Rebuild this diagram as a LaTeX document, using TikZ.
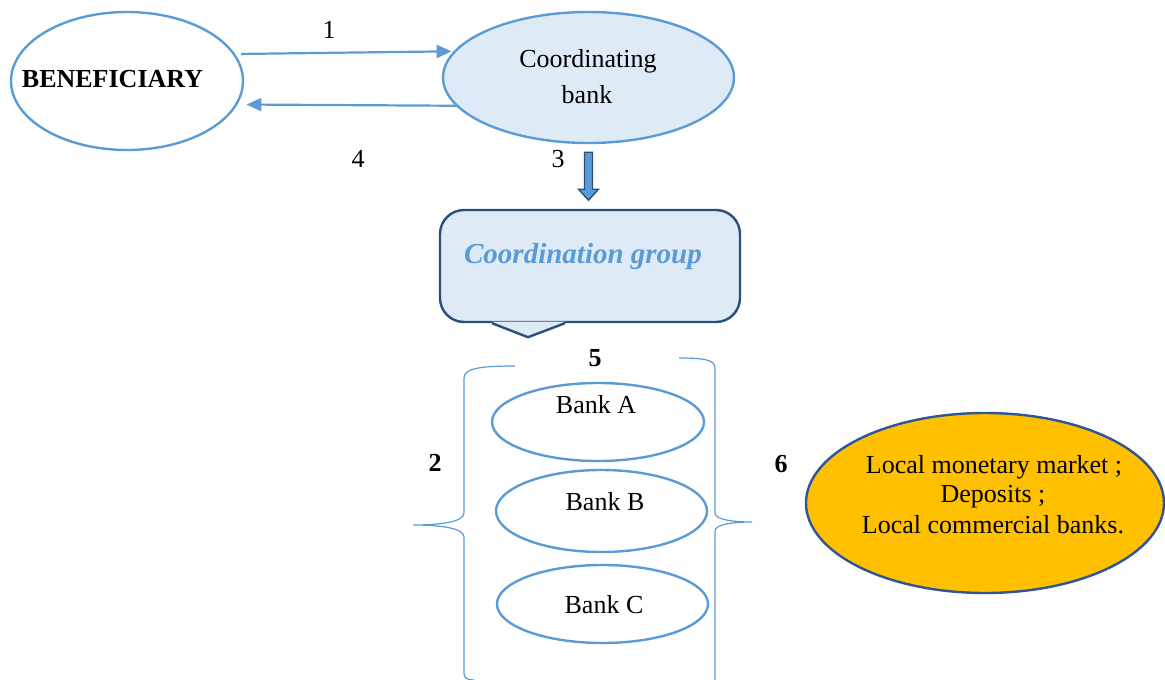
\documentclass[tikz,border=0pt]{standalone}
\usepackage{fontspec}
\setmainfont{Liberation Serif}
\usetikzlibrary{shapes.geometric, arrows.meta, calc}

\definecolor{accent}{RGB}{91,155,213}
\definecolor{paleblue}{RGB}{222,235,247}
\definecolor{navy}{RGB}{41,80,125}
\definecolor{amber}{RGB}{255,192,0}
\definecolor{amberline}{RGB}{47,85,151}

\begin{document}
\begin{tikzpicture}[x=1pt, y=-1pt,
  oval/.style={ellipse, draw=accent, line width=2.4pt, inner sep=0pt},
  txt/.style={font=\fontsize{26}{30}\selectfont, inner sep=0pt, anchor=base},
  num/.style={font=\fontsize{26}{30}\selectfont\bfseries, inner sep=0pt, anchor=base},
  flow/.style={draw=accent, line width=2.2pt, -{Triangle[length=15pt,width=13pt]}},
  brace/.style={draw=accent, line width=1.2pt},
  stack/.style={oval, minimum width=211, minimum height=78},
]
\useasboundingbox (0,0) rectangle (1165,680);

% top row: beneficiary and coordinating bank
\node[oval, minimum width=232, minimum height=138] (benef) at (127,81) {};
\node[txt, font=\fontsize{26}{30}\selectfont\bfseries] (benefT) at (112.5,87) {BENEFICIARY};

\node[oval, fill=paleblue, minimum width=291, minimum height=131] (coord) at (588.5,77.5) {};
\node[txt] (coordT1) at (588,67) {Coordinating};
\node[txt] (coordT2) at (587,103) {bank};

\draw[flow, shorten <=6pt, shorten >=2pt] (benef.14.4) -- (coord.169.4);
\draw[flow, shorten <=-3pt, shorten >=9pt] (coord.192.2) -- (benef.-12.4);
\node[txt] (n1) at (329,38) {1};
\node[txt] (n4) at (358,167) {4};
\node[txt] (n3) at (558,167) {3};

% block arrow down to the coordination group
\begin{scope}[shift={(coord.south)}]
  \draw[fill=accent, draw=navy, line width=1.4pt, line join=miter]
    (-4,8) -- (4,8) -- (4,45) -- (10,45) -- (0,56) -- (-10,45) -- (-4,45) -- cycle;
\end{scope}

% coordination group callout
\node[draw=navy, fill=paleblue, line width=2.4pt, rounded corners=24pt,
      minimum width=300, minimum height=112, inner sep=0pt] (group) at (590,266) {};
\fill[paleblue] ($(group.south)+(-98,-1.5)$) -- ($(group.south)+(-62,14)$)
  -- ($(group.south)+(-25,-1.5)$) -- cycle;
\draw[navy, line width=2.4pt, line join=round]
  ($(group.south)+(-98,0)$) -- ($(group.south)+(-62,14)$) -- ($(group.south)+(-25,0)$);
\node[txt, font=\fontsize{29}{33}\selectfont\bfseries\itshape, text=accent] (groupT) at (583,263) {Coordination group};

\node[num] (n5) at (595,366) {5};
\node[num] (n2) at (435,471) {2};
\node[num] (n6) at (781,472) {6};

% participating banks
\node[stack, minimum width=212] (bankA) at (598,422) {};
\node[txt] (bankAT) at (596,413) {Bank A};
\node[stack, minimum height=82] (bankB) at (601.5,511) {};
\node[txt] (bankBT) at (605,510) {Bank B};
\node[stack] (bankC) at (602.5,604) {};
\node[txt] (bankCT) at (604,613) {Bank C};

% braces around the banks
\draw[brace] (515,366) .. controls (482,366) and (464,368) .. (464,378)
  -- (464,513) .. controls (464,522) and (440,525) .. (413,525)
  .. controls (440,525) and (464,528) .. (464,537)
  -- (464,673) .. controls (464,678) and (467,680) .. (474,680);
\draw[brace] (679,358) .. controls (705,358) and (715,360) .. (715,368)
  -- (715,513) .. controls (715,519) and (730,522) .. (752,522)
  .. controls (730,522) and (715,525) .. (715,531) -- (715,680);

% local resources
\node[ellipse, draw=amberline, fill=amber, line width=2.4pt, inner sep=0pt,
      minimum width=358, minimum height=180] (local) at (985,503) {};
\node[txt] (localT1) at (994,473) {Local monetary market ;};
\node[txt] (localT2) at (993,502) {Deposits ;};
\node[txt] (localT3) at (993,533) {Local commercial banks.};
\end{tikzpicture}
\end{document}
